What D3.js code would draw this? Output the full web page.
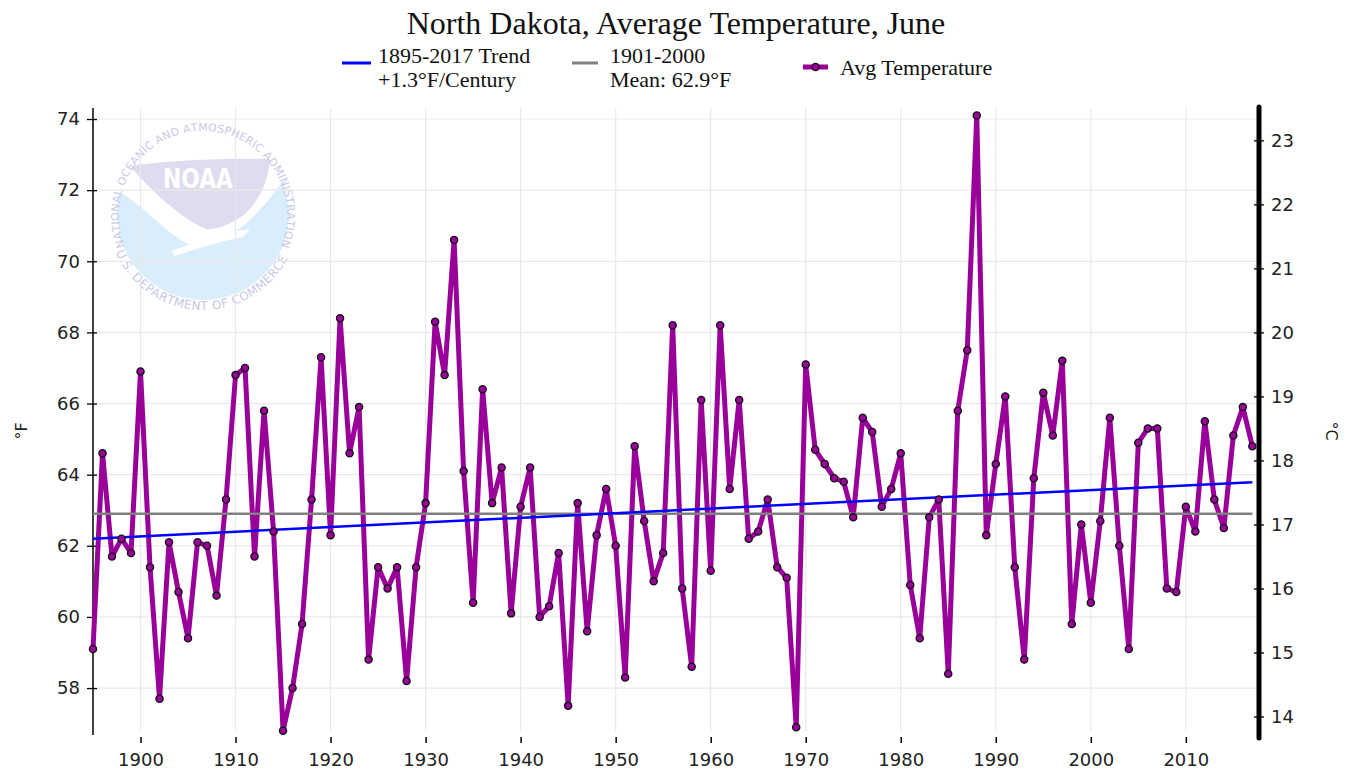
<!DOCTYPE html>
<html>
<head>
<meta charset="utf-8">
<script src="https://cdn.jsdelivr.net/npm/d3@7"></script>
<style>
html,body{margin:0;padding:0;background:#fff;}
svg{display:block;}
</style>
</head>
<body>
<svg id="chart" width="1352" height="774"></svg>
<script>
// ---- data ----
const startYear = 1895;
const endYear = 2017;
const years = d3.range(startYear, endYear + 1);
const avgTemp = [
  59.1, 64.6, 61.7, 62.2, 61.8, 66.9, 61.4, 57.7, 62.1, 60.7,
  59.4, 62.1, 62.0, 60.6, 63.3, 66.8, 67.0, 61.7, 65.8, 62.4,
  56.8, 58.0, 59.8, 63.3, 67.3, 62.3, 68.4, 64.6, 65.9, 58.8,
  61.4, 60.8, 61.4, 58.2, 61.4, 63.2, 68.3, 66.8, 70.6, 64.1,
  60.4, 66.4, 63.2, 64.2, 60.1, 63.1, 64.2, 60.0, 60.3, 61.8,
  57.5, 63.2, 59.6, 62.3, 63.6, 62.0, 58.3, 64.8, 62.7, 61.0,
  61.8, 68.2, 60.8, 58.6, 66.1, 61.3, 68.2, 63.6, 66.1, 62.2,
  62.4, 63.3, 61.4, 61.1, 56.9, 67.1, 64.7, 64.3, 63.9, 63.8,
  62.8, 65.6, 65.2, 63.1, 63.6, 64.6, 60.9, 59.4, 62.8, 63.3,
  58.4, 65.8, 67.5, 74.1, 62.3, 64.3, 66.2, 61.4, 58.8, 63.9,
  66.3, 65.1, 67.2, 59.8, 62.6, 60.4, 62.7, 65.6, 62.0, 59.1,
  64.9, 65.3, 65.3, 60.8, 60.7, 63.1, 62.4, 65.5, 63.3, 62.5,
  65.1, 65.9, 64.8
];
const trendYears = [1895, 2017];
const trendValues = [62.2, 63.79];
const meanValue = 62.9;
const fTicks = [58, 60, 62, 64, 66, 68, 70, 72, 74];
const cTicks = [14, 15, 16, 17, 18, 19, 20, 21, 22, 23];
const xTicks = [1900, 1910, 1920, 1930, 1940, 1950, 1960, 1970, 1980, 1990, 2000, 2010];
const titleText = "North Dakota, Average Temperature, June";
const legendTrend = ["1895-2017 Trend", "+1.3°F/Century"];
const legendMean = ["1901-2000", "Mean: 62.9°F"];
const legendAvg = "Avg Temperature";
const logoTop = "NATIONAL OCEANIC AND ATMOSPHERIC ADMINISTRATION";
const logoBottom = "U.S. DEPARTMENT OF COMMERCE";

// ---- layout ----
const L = 93, R = 1259, T = 108, B = 735;
const fDomain = [56.68, 74.31];
const svg = d3.select("#chart");
const x = d3.scaleLinear().domain([1895, 2017.7]).range([L, R]);
const y = d3.scaleLinear().domain(fDomain).range([B, T]);
const yC = d3.scaleLinear().domain(fDomain.map(f => (f - 32) * 5 / 9)).range([B, T]);

const sans = "DejaVu Sans, Verdana, sans-serif";
const serif = "Liberation Serif, Times New Roman, serif";
const purple = "#990099";

// ---- NOAA watermark ----
const defs = svg.append("defs");
const logo = svg.append("g").attr("class", "logo");
const cx = 203, cy = 214, cr = 86;
defs.append("clipPath").attr("id", "logoClip").append("circle")
  .attr("cx", cx).attr("cy", cy).attr("r", cr);
const lg = logo.append("g").attr("clip-path", "url(#logoClip)");
lg.append("path")
  .attr("d", "M 108,188 C 140,197 162,234 196,248 C 232,242 262,214 290,170 L 300,310 L 100,310 Z")
  .attr("fill", "#d9eefa");
lg.append("path")
  .attr("d", "M 130,166 C 170,160 230,158 270,159 C 268,184 258,202 244,215 C 228,226 214,230 206,229 C 182,219 152,192 130,166 Z")
  .attr("fill", "#dedcee");
lg.append("path")
  .attr("d", "M 172,251 C 198,241 222,233 250,229 L 243,237 C 218,242 196,249 174,256 Z")
  .attr("fill", "#ffffff");
logo.append("text")
  .attr("x", 198).attr("y", 188)
  .attr("text-anchor", "middle")
  .attr("font-family", sans).attr("font-weight", "bold")
  .attr("font-size", 26).attr("textLength", 70).attr("lengthAdjust", "spacingAndGlyphs")
  .attr("fill", "#ffffff").text("NOAA");

function arcText(str, rcx, rcy, r, a0, a1, size) {
  const g = logo.append("g").attr("font-family", sans).attr("fill", "#c8c8e6");
  const chars = str.split("");
  let fs = size;
  const measure = s => {
    const t = g.append("text").attr("font-size", fs).text(s === " " ? "\u00a0" : s);
    const w = t.node().getComputedTextLength();
    t.remove();
    return w;
  };
  const S = r * Math.abs(a1 - a0) * Math.PI / 180;
  let widths = chars.map(measure);
  let W = d3.sum(widths);
  if (W > S * 0.97) {
    fs = fs * S * 0.97 / W;
    widths = chars.map(measure);
    W = d3.sum(widths);
  }
  const gap = chars.length > 1 ? (S - W) / (chars.length - 1) : 0;
  const dir = a1 > a0 ? 1 : -1;
  let s = 0;
  chars.forEach((c, i) => {
    const sc = s + widths[i] / 2;
    s += widths[i] + gap;
    if (c === " ") return;
    const a = a0 + dir * (sc / r) * 180 / Math.PI;
    const rad = a * Math.PI / 180;
    const px = rcx + r * Math.cos(rad), py = rcy + r * Math.sin(rad);
    const rot = dir > 0 ? a + 90 : a - 90;
    g.append("text").attr("font-size", fs).attr("text-anchor", "middle")
      .attr("transform", `translate(${px.toFixed(2)},${py.toFixed(2)}) rotate(${rot.toFixed(2)})`)
      .text(c);
  });
}
arcText(logoTop, 203, 215, 84, 158, 382, 12);
arcText(logoBottom, 203, 215, 95, 157, 27, 12);

// ---- grid ----
const grid = svg.append("g").attr("class", "grid");
grid.selectAll("line.h").data(fTicks).join("line").attr("class", "h")
  .attr("x1", L).attr("x2", R).attr("y1", d => y(d)).attr("y2", d => y(d))
  .attr("stroke", "#e9e9e9").attr("stroke-width", 1.2);
grid.selectAll("line.v").data(xTicks).join("line").attr("class", "v")
  .attr("x1", d => x(d)).attr("x2", d => x(d)).attr("y1", T).attr("y2", B - 4)
  .attr("stroke", "#e9e9e9").attr("stroke-width", 1.2);

// ---- left axis ----
const leftAxis = d3.axisLeft(y).tickValues(fTicks).tickSize(6).tickPadding(8).tickFormat(d3.format("d"));
const gl = svg.append("g").attr("transform", `translate(${L},0)`).call(leftAxis);
gl.select(".domain").remove();
gl.append("line").attr("x1", 0).attr("x2", 0).attr("y1", T).attr("y2", B).attr("stroke", "#000").attr("stroke-width", 1.5);
gl.selectAll(".tick line").attr("x1", 4).attr("x2", -6).attr("stroke", "#000").attr("stroke-width", 1.3);
gl.selectAll(".tick text").attr("font-family", sans).attr("font-size", 18).attr("fill", "#222").attr("x", -13);

// ---- right axis ----
const rightAxis = d3.axisRight(yC).tickValues(cTicks).tickSize(5).tickPadding(8).tickFormat(d3.format("d"));
const gr = svg.append("g").attr("transform", `translate(${R},0)`).call(rightAxis);
gr.select(".domain").remove();
gr.append("line").attr("x1", 0).attr("x2", 0).attr("y1", T - 1).attr("y2", B + 3)
  .attr("stroke", "#000").attr("stroke-width", 5).attr("stroke-linecap", "round");
gr.selectAll(".tick line").attr("x1", -5).attr("x2", 5).attr("stroke", "#000").attr("stroke-width", 1.3);
gr.selectAll(".tick text").attr("font-family", sans).attr("font-size", 18).attr("fill", "#222").attr("x", 12);

// ---- bottom axis ----
const bottomAxis = d3.axisBottom(x).tickValues(xTicks).tickSize(6).tickPadding(10).tickFormat(d3.format("d"));
const gb = svg.append("g").attr("transform", `translate(0,${B + 2})`).call(bottomAxis);
gb.select(".domain").remove();
gb.selectAll(".tick line").attr("stroke", "#000").attr("stroke-width", 1.5);
gb.selectAll(".tick text").attr("font-family", sans).attr("font-size", 18).attr("fill", "#222");

// ---- axis titles ----
svg.append("text").attr("transform", "translate(27,431) rotate(-90)")
  .attr("text-anchor", "middle").attr("font-family", sans).attr("font-size", 16).attr("fill", "#222").text("°F");
svg.append("text").attr("transform", "translate(1326,431) rotate(90)")
  .attr("text-anchor", "middle").attr("font-family", sans).attr("font-size", 16).attr("fill", "#222").text("°C");

// ---- series ----
const line = d3.line().x((d, i) => x(years[i])).y(d => y(d));
svg.append("path").datum(avgTemp).attr("d", line)
  .attr("fill", "none").attr("stroke", purple).attr("stroke-width", 5).attr("stroke-linejoin", "round");

svg.append("line")
  .attr("x1", x(trendYears[0])).attr("x2", x(trendYears[1]))
  .attr("y1", y(meanValue)).attr("y2", y(meanValue))
  .attr("stroke", "#808080").attr("stroke-width", 2.5);
svg.append("line")
  .attr("x1", x(trendYears[0])).attr("x2", x(trendYears[1]))
  .attr("y1", y(trendValues[0])).attr("y2", y(trendValues[1]))
  .attr("stroke", "#0000ff").attr("stroke-width", 2.5);

svg.append("g").selectAll("circle").data(avgTemp).join("circle")
  .attr("cx", (d, i) => x(years[i])).attr("cy", d => y(d)).attr("r", 3.6)
  .attr("fill", purple).attr("stroke", "#111").attr("stroke-width", 1.3);

// ---- title ----
svg.append("text").attr("x", 676).attr("y", 34).attr("text-anchor", "middle")
  .attr("font-family", serif).attr("font-size", 32).attr("fill", "#111").text(titleText);

// ---- legend ----
const leg = svg.append("g").attr("font-family", serif).attr("font-size", 22).attr("fill", "#111");
leg.append("line").attr("x1", 342).attr("x2", 371).attr("y1", 63).attr("y2", 63).attr("stroke", "#0000ff").attr("stroke-width", 3);
leg.append("text").attr("x", 378).attr("y", 63).text(legendTrend[0]);
leg.append("text").attr("x", 378).attr("y", 87).text(legendTrend[1]);
leg.append("line").attr("x1", 572).attr("x2", 598).attr("y1", 63).attr("y2", 63).attr("stroke", "#808080").attr("stroke-width", 3);
leg.append("text").attr("x", 610).attr("y", 63).text(legendMean[0]);
leg.append("text").attr("x", 610).attr("y", 87).text(legendMean[1]);
leg.append("line").attr("x1", 803).attr("x2", 828).attr("y1", 67).attr("y2", 67).attr("stroke", purple).attr("stroke-width", 5);
leg.append("circle").attr("cx", 815.5).attr("cy", 67).attr("r", 3.6).attr("fill", purple).attr("stroke", "#111").attr("stroke-width", 1.3);
leg.append("text").attr("x", 840).attr("y", 75).text(legendAvg);
</script>
</body>
</html>
